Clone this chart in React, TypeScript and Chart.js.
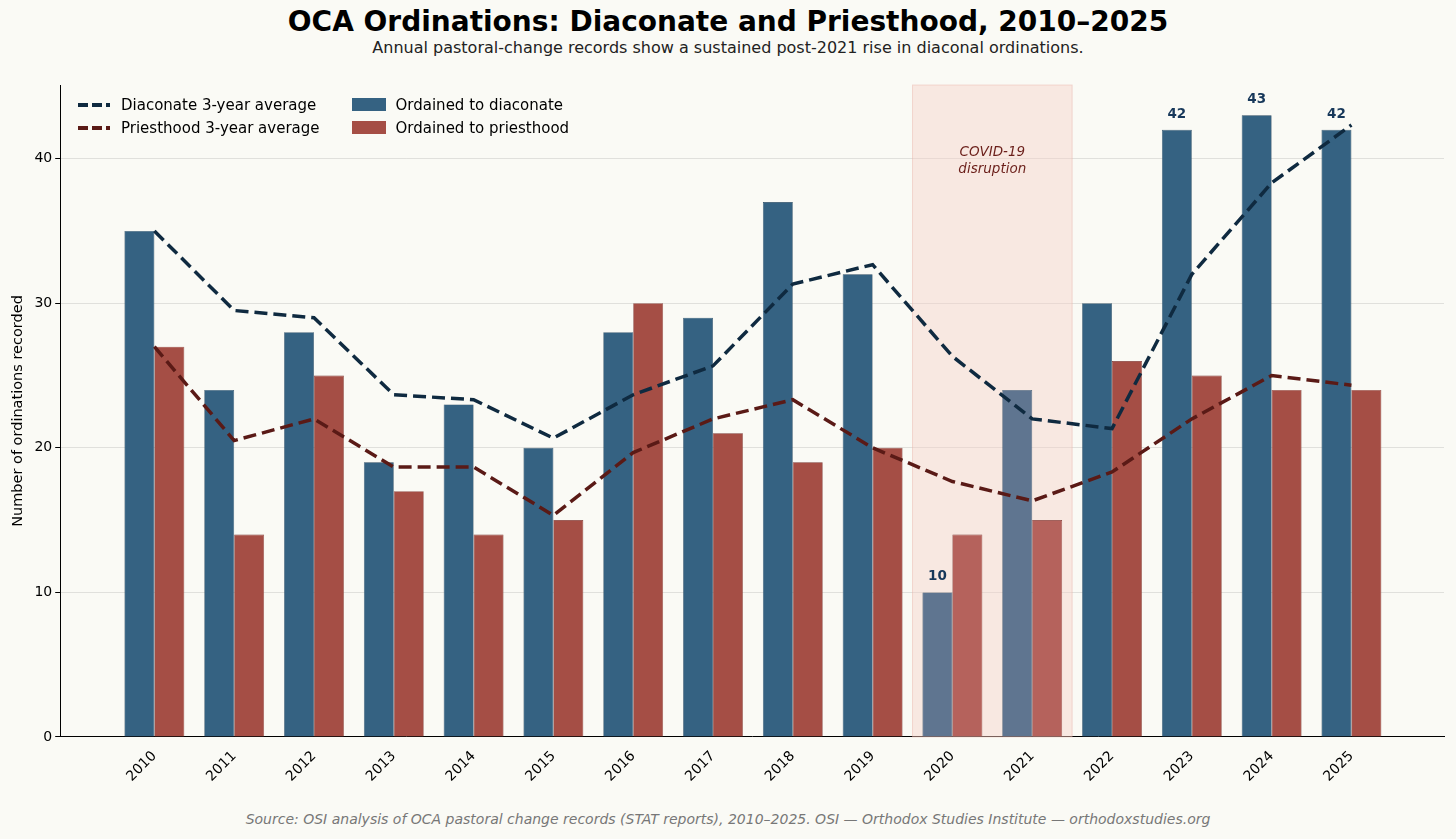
import React, { useEffect, useRef } from "react";
import { Chart, registerables } from "chart.js";
Chart.register(...registerables);

const years = ["2010","2011","2012","2013","2014","2015","2016","2017","2018","2019","2020","2021","2022","2023","2024","2025"];
const diaconate = [35,24,28,19,23,20,28,29,37,32,10,24,30,42,43,42];
const priesthood = [27,14,25,17,14,15,30,21,19,20,14,15,26,25,24,24];
const diacAvg = [35,29.5,29,23.67,23.33,20.67,23.67,25.67,31.33,32.67,26.33,22,21.33,32,38.33,42.33];
const priestAvg = [27,20.5,22,18.67,18.67,15.33,19.67,22,23.33,20,17.67,16.33,18.33,22,25,24.33];
const covidYears = ["2020","2021"];
const labeledYears = ["2020","2023","2024","2025"];

const FONT = "DejaVu Sans";
const C_D = "#356282", C_P = "#a54e45", C_D2 = "#5f7590", C_P2 = "#b5625c";
const L_D = "#0f2a40", L_P = "#5a1a16";

export default function App() {
  const ref = useRef<HTMLCanvasElement>(null);
  useEffect(() => {
    const covidIdx = covidYears.map(y => years.indexOf(y));
    const plugin = {
      id: "extras",
      beforeDatasetsDraw(chart: any) {
        const { ctx, scales: { x, y }, chartArea } = chart;
        const a = x.getPixelForValue(Math.min(...covidIdx) - 0.5);
        const b = x.getPixelForValue(Math.max(...covidIdx) + 0.5);
        ctx.save();
        ctx.fillStyle = "rgba(244,205,195,0.4)";
        ctx.fillRect(a, chartArea.top, b - a, chartArea.bottom - chartArea.top);
        ctx.strokeStyle = "rgba(230,170,160,0.4)";
        ctx.strokeRect(a, chartArea.top, b - a, chartArea.bottom - chartArea.top);
        ctx.fillStyle = "#6b1f1a";
        ctx.font = `italic 13.5px ${FONT}`;
        ctx.textAlign = "center";
        const cx = (a + b) / 2;
        ctx.fillText("COVID-19", cx, y.getPixelForValue(40.2));
        ctx.fillText("disruption", cx, y.getPixelForValue(39.0));
        ctx.restore();
      },
      afterDatasetsDraw(chart: any) {
        const { ctx } = chart;
        const meta = chart.getDatasetMeta(0);
        ctx.save();
        ctx.fillStyle = "#17385a";
        ctx.font = `bold 13.5px ${FONT}`;
        ctx.textAlign = "center";
        labeledYears.forEach(yr => {
          const i = years.indexOf(yr);
          const el = meta.data[i];
          ctx.fillText(String(diaconate[i]), el.x, el.y - 12);
        });
        ctx.restore();
      },
    };
    const isCovid = (i: number) => covidYears.includes(years[i]);
    const chart = new Chart(ref.current!, {
      type: "bar",
      data: {
        datasets: [
          { type: "bar", label: "Ordained to diaconate", data: diaconate.map((v, i) => ({ x: i, y: v })),
            backgroundColor: diaconate.map((_, i) => isCovid(i) ? C_D2 : C_D), borderColor: "#24445c", borderWidth: 0.6,
            categoryPercentage: 0.75, barPercentage: 1, order: 2 },
          { type: "bar", label: "Ordained to priesthood", data: priesthood.map((v, i) => ({ x: i, y: v })),
            backgroundColor: priesthood.map((_, i) => isCovid(i) ? C_P2 : C_P), borderColor: "#7a3530", borderWidth: 0.6,
            categoryPercentage: 0.75, barPercentage: 1, order: 2 },
          { type: "line", label: "Diaconate 3-year average", data: diacAvg.map((v, i) => ({ x: i, y: v })),
            borderColor: L_D, borderWidth: 3.5, borderDash: [13, 6], pointRadius: 0, tension: 0, order: 0 },
          { type: "line", label: "Priesthood 3-year average", data: priestAvg.map((v, i) => ({ x: i, y: v })),
            borderColor: L_P, borderWidth: 3.5, borderDash: [13, 6], pointRadius: 0, tension: 0, order: 1 },
        ] as any,
      },
      options: {
        animation: false,
        responsive: false,
        layout: { padding: { top: 25, right: 12, left: 6, bottom: 0 } },
        plugins: { legend: { display: false }, tooltip: { enabled: false } },
        scales: {
          x: {
            type: "linear", min: -1.18, max: 16.16, offset: false,
            grid: { display: false, drawTicks: true },
            border: { color: "#000", width: 1 },
            afterBuildTicks: (s: any) => { s.ticks = years.map((_, i) => ({ value: i })); },
            ticks: { color: "#000", font: { family: FONT, size: 14 }, maxRotation: 45, minRotation: 45,
              callback: (v: any) => years[v] ?? "" },
          },
          y: {
            min: 0, max: 45.1,
            grid: { color: "rgba(0,0,0,0.1)", tickColor: "#000", tickLength: 5 },
            border: { color: "#000", width: 1 },
            afterBuildTicks: (s: any) => { s.ticks = [0,10,20,30,40].map(v => ({ value: v })); },
            ticks: { color: "#000", font: { family: FONT, size: 14 } },
            title: { display: true, text: "Number of ordinations recorded", color: "#000", font: { family: FONT, size: 14.5 } },
          },
        },
      } as any,
      plugins: [plugin],
    });
    return () => chart.destroy();
  }, []);

  const lineSample = (c: string) => (
    <svg width="34" height="8" style={{ marginRight: 10 }}><line x1="1" y1="4" x2="33" y2="4" stroke={c} strokeWidth="4" strokeDasharray="10 4" /></svg>
  );
  const patch = (c: string) => <span style={{ display: "inline-block", width: 34, height: 13, background: c, marginRight: 10 }} />;
  const item: React.CSSProperties = { display: "flex", alignItems: "center", height: 23 };

  return (
    <div style={{ position: "fixed", inset: 0, width: 1456, height: 839, background: "#fafaf5", fontFamily: FONT, overflow: "hidden" }}>
      <div style={{ position: "absolute", top: 5, width: "100%", textAlign: "center", fontWeight: "bold", fontSize: 28 }}>
        OCA Ordinations: Diaconate and Priesthood, 2010–2025
      </div>
      <div style={{ position: "absolute", top: 38, width: "100%", textAlign: "center", fontSize: 16, color: "#222" }}>
        Annual pastoral-change records show a sustained post-2021 rise in diaconal ordinations.
      </div>
      <canvas ref={ref} width={1456} height={728} style={{ position: "absolute", top: 60, left: 0 }} />
      <div style={{ position: "absolute", top: 93, left: 77, fontSize: 15, display: "flex", gap: 32 }}>
        <div>
          <div style={item}>{lineSample(L_D)}Diaconate 3-year average</div>
          <div style={item}>{lineSample(L_P)}Priesthood 3-year average</div>
        </div>
        <div>
          <div style={item}>{patch(C_D)}Ordained to diaconate</div>
          <div style={item}>{patch(C_P)}Ordained to priesthood</div>
        </div>
      </div>
      <div style={{ position: "absolute", top: 811, width: "100%", textAlign: "center", fontSize: 14, fontStyle: "italic", color: "#777" }}>
        Source: OSI analysis of OCA pastoral change records (STAT reports), 2010–2025. OSI — Orthodox Studies Institute — orthodoxstudies.org
      </div>
    </div>
  );
}
